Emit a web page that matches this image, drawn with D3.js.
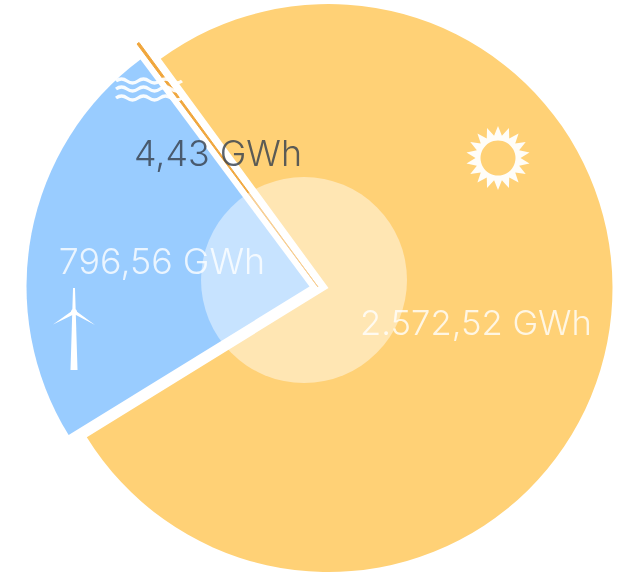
<!DOCTYPE html>
<html><head><meta charset="utf-8">
<script src="https://cdn.jsdelivr.net/npm/d3@7"></script>
<style>html,body{margin:0;padding:0;background:#fff;overflow:hidden}svg{display:block;filter:blur(.7px)}text{font-family:Inter,sans-serif;font-weight:300}</style>
</head><body><svg id="c" width="622" height="573"></svg>
<script>
const categories = ["Solar","Wind","Hydro"];
const values = [2572.52,796.56,4.43];
const labels = ["2.572,52 GWh","796,56 GWh","4,43 GWh"];
const colors = ["#ffd176","#99ccff","#f0a63c"];
const centers = [[328.5,288],[309.5,286.5],[318,287]];
const radii = [284,283,303];
const labelPos = [[476,335],[162,274],[218,166]];
const labelSize = [34.6,35.8,35.8];
const labelFill = ["rgba(255,255,255,.8)","rgba(255,255,255,.8)","rgba(55,65,78,.82)"];
const svg = d3.select("#c");
const start = -36.2*Math.PI/180;
const pie = d3.pie().sort(null).startAngle(start).endAngle(start+2*Math.PI);
const arcs = pie(values);
svg.selectAll("path.s").data(arcs).join("path").attr("class","s")
  .attr("transform",(d,i)=>`translate(${centers[i]})`)
  .attr("d",(d,i)=>d3.arc().innerRadius(0).outerRadius(radii[i])(d))
  .attr("fill",(d,i)=>colors[i])
  .attr("stroke",(d,i)=>i===2?colors[i]:"none").attr("stroke-width",1);
svg.append("circle").attr("cx",304).attr("cy",280).attr("r",103).attr("fill","rgba(255,255,255,.45)");
// sun icon
const sunPts=[];const n=18;
for(let k=0;k<n*2;k++){const a=k*Math.PI/n-Math.PI/2,r=k%2?22.5:32;sunPts.push([498+r*Math.cos(a),158+r*Math.sin(a)]);}
svg.append("path").attr("d",d3.line()(sunPts)+"Z M498 140.5 a17.5 17.5 0 1 0 .01 0Z").attr("fill","#fff").attr("fill-rule","evenodd").attr("opacity",.95);
// wind icon
svg.append("path").attr("d","M73 288 L75 288 L77.5 370 L70.5 370 Z").attr("fill","#fff");
svg.append("path").attr("d","M74 309.5 L53 324.5 L73.5 314.5 Z M74 309.5 L95 325 L75 314.5 Z").attr("fill","#fff");
svg.append("circle").attr("cx",74).attr("cy",312).attr("r",3).attr("fill","#fff");
// hydro icon
[81,89,98].forEach(y=>{
  let p=`M116 ${y}`;
  for(let k=0;k<3;k++) p+=` q5.5 -4 11 0 t11 0`;
  svg.append("path").attr("d",p).attr("fill","none").attr("stroke","#fff").attr("stroke-width",3.4).attr("opacity",.93);
});
svg.selectAll("text.l").data(labels).join("text").attr("class","l")
  .attr("x",(d,i)=>labelPos[i][0]).attr("y",(d,i)=>labelPos[i][1])
  .attr("font-size",(d,i)=>labelSize[i])
  .attr("text-anchor","middle").attr("fill",(d,i)=>labelFill[i]).text(d=>d);
</script></body></html>
